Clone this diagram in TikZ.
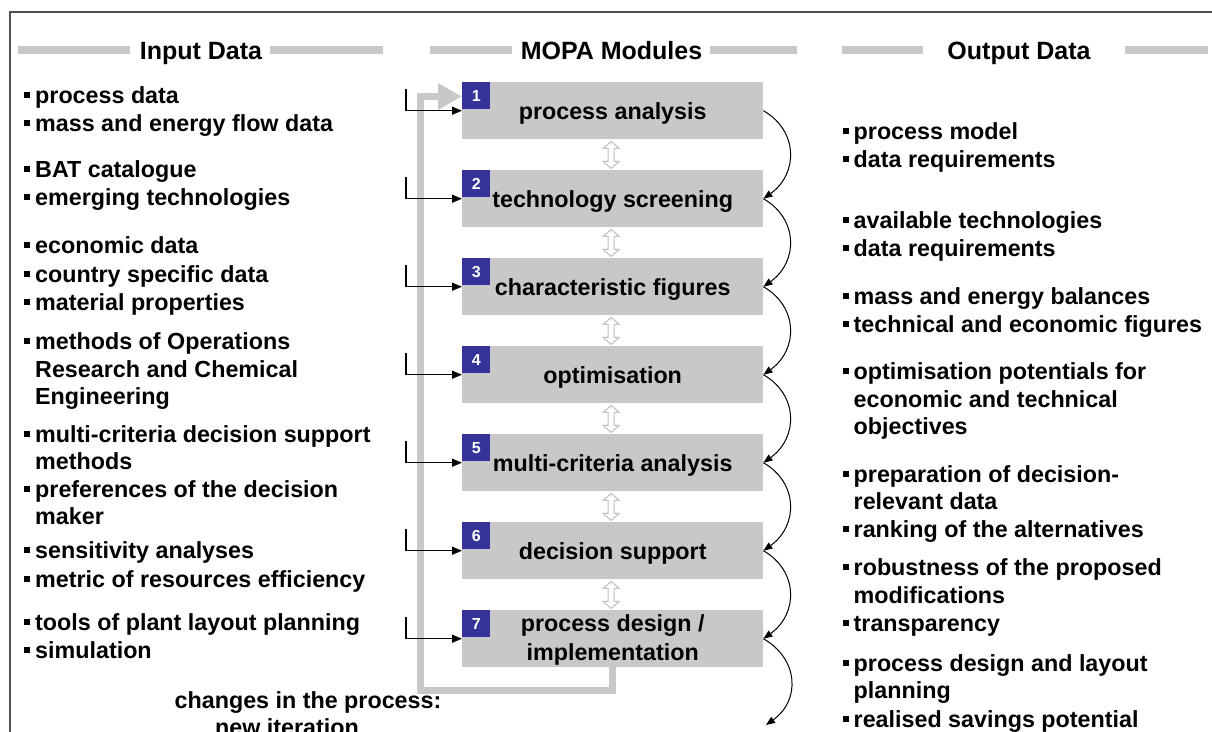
\documentclass[tikz,border=0pt]{standalone}
\usepackage{fontspec}
\setmainfont{Liberation Sans}
\usetikzlibrary{arrows.meta,calc}
\definecolor{boxgray}{RGB}{200,200,200}
\definecolor{badgeblue}{RGB}{51,51,153}
\definecolor{framegray}{RGB}{80,80,80}
\definecolor{dblgray}{RGB}{190,190,190}
\newcommand\bul{\makebox[11pt][l]{\raisebox{5pt}{\rule{6pt}{6pt}}}}
\newcommand\ind{\hspace*{11pt}}
\begin{document}
\begin{tikzpicture}[x=1pt,y=-1pt,
 item/.style={anchor=base west, inner sep=0pt, font=\fontsize{23.3}{27}\selectfont\bfseries},
 head/.style={anchor=base, inner sep=0pt, font=\fontsize{25}{30}\selectfont\bfseries},
 bar/.style={fill=boxgray, draw=none},
 module/.style={fill=boxgray, draw=none, minimum width=301pt, minimum height=57pt, inner sep=0pt, anchor=north west},
 badge/.style={fill=badgeblue, text=white, minimum width=28pt, minimum height=27pt, inner sep=0pt, anchor=north west, font=\fontsize{16}{16}\selectfont\bfseries},
 mtext/.style={anchor=base, inner sep=0pt, font=\fontsize{23.3}{27}\selectfont\bfseries},
 inarrow/.style={draw=black, line width=1.2pt, -{Triangle[length=10pt,width=8pt]}},
 curv/.style={draw=black, line width=1pt, -{Triangle[length=9pt,width=7pt]}},
 loopline/.style={draw=boxgray, line width=7pt, line join=miter, -{Triangle[length=24pt,width=25pt]}},
 dbl/.style={draw=dblgray, line width=1pt, fill=white, line join=miter},
]
\useasboundingbox (0,0) rectangle (1212,731);
\fill[white] (0,0) rectangle (1212,731);
% frame
\draw[framegray, line width=2pt] (10,12) rectangle (1240,760);

% headers
\fill[bar] (18,46) rectangle (130,54);
\fill[bar] (270,46) rectangle (383,54);
\fill[bar] (430,46) rectangle (512,54);
\fill[bar] (710,46) rectangle (797,54);
\fill[bar] (842,46) rectangle (923,54);
\fill[bar] (1125,46) rectangle (1208,54);
\node[head] (hin) at (201,59.5) {Input Data};
\node[head] (hmo) at (611.5,59.5) {MOPA Modules};
\node[head] (hout) at (1019,59.5) {Output Data};

% feedback loop (drawn first, behind boxes)
\node[module] (b1) at (462,82) {};
\node[module] (b7) at (462,610) {};
\coordinate (fbend) at ($(b1.north west)+(0,14.5)$);
\draw[loopline] (b7.south) |- (420,690) -- (420,96.5) -- (fbend);

% modules
\foreach \i/\txt in {1/process analysis, 2/technology screening, 3/characteristic figures, 4/optimisation, 5/multi-criteria analysis, 6/decision support}{
  \pgfmathsetmacro\yy{82+88*(\i-1)}
  \node[module] (b\i) at (462,\yy) {};
  \node[mtext] (t\i) at ($(b\i.center)+(0,8.3)$) {\txt};
  \node[badge] (n\i) at (b\i.north west) {\i};
}
\node[module] (b7) at (462,610) {};
\node[mtext] (t7a) at ($(b7.center)+(0,-7)$) {process design /};
\node[mtext] (t7b) at ($(b7.center)+(0,21.5)$) {implementation};
\node[badge] (n7) at (b7.north west) {7};

% input arrows
\foreach \i in {1,...,7}{
  \coordinate (s\i) at ($(b\i.north west)+(-56,6.5)$);
  \draw[inarrow] (s\i) |- (b\i.west);
}

% double arrows between modules
\foreach \i in {1,...,6}{
  \draw[dbl] ($(b\i.south)+(-1.5,2)$) -- ++(8,7) -- ++(-5,0) -- ++(0,13) -- ++(5,0) -- ++(-8,7) -- ++(-8,-7) -- ++(5,0) -- ++(0,-13) -- ++(-5,0) -- cycle;
}

% curved output arrows
\foreach \i [evaluate=\i as \j using int(\i+1)] in {1,...,6}{
  \draw[curv] (b\i.east) .. controls +(35,20) and +(35,-25) .. (b\j.east);
}
\coordinate (cend) at (766,725);
\draw[curv] (b7.east) .. controls +(35,20) and +(35,-25) .. (cend);

% input list
\foreach \y/\bb/\txt [count=\k] in {103/1/process data, 131/1/mass and energy flow data, 177/1/BAT catalogue, 205/1/emerging technologies, 253/1/economic data, 282/1/country specific data, 310/1/material properties, 349/1/methods of Operations, 377/0/Research and Chemical, 404/0/Engineering, 442/1/multi-criteria decision support, 469/0/methods, 497/1/preferences of the decision, 524/0/maker, 558/1/sensitivity analyses, 587/1/metric of resources efficiency, 630/1/tools of plant layout planning, 658/1/simulation}{
  \node[item] (in\k) at (24,\y) {\ifnum\bb=1 \bul\else\ind\fi\txt};
}

% output list
\foreach \y/\bb/\txt [count=\k] in {139/1/process model, 167/1/data requirements, 228/1/available technologies, 256/1/data requirements, 304/1/mass and energy balances, 332/1/technical and economic figures, 379/1/optimisation potentials for, 407/0/economic and technical, 434/0/objectives, 482/1/preparation of decision-, 509/0/relevant data, 537/1/ranking of the alternatives, 575/1/robustness of the proposed, 603/0/modifications, 631/1/transparency, 671/1/process design and layout, 698/0/planning, 727/1/realised savings potential}{
  \node[item] (out\k) at (842.5,\y) {\ifnum\bb=1 \bul\else\ind\fi\txt};
}

% iteration label (cut off at the lower edge, as in the reference)
\node[mtext] (chg1) at (308,708) {changes in the process:};
\node[mtext] (chg2) at (287,735) {new iteration};
\end{tikzpicture}
\end{document}
